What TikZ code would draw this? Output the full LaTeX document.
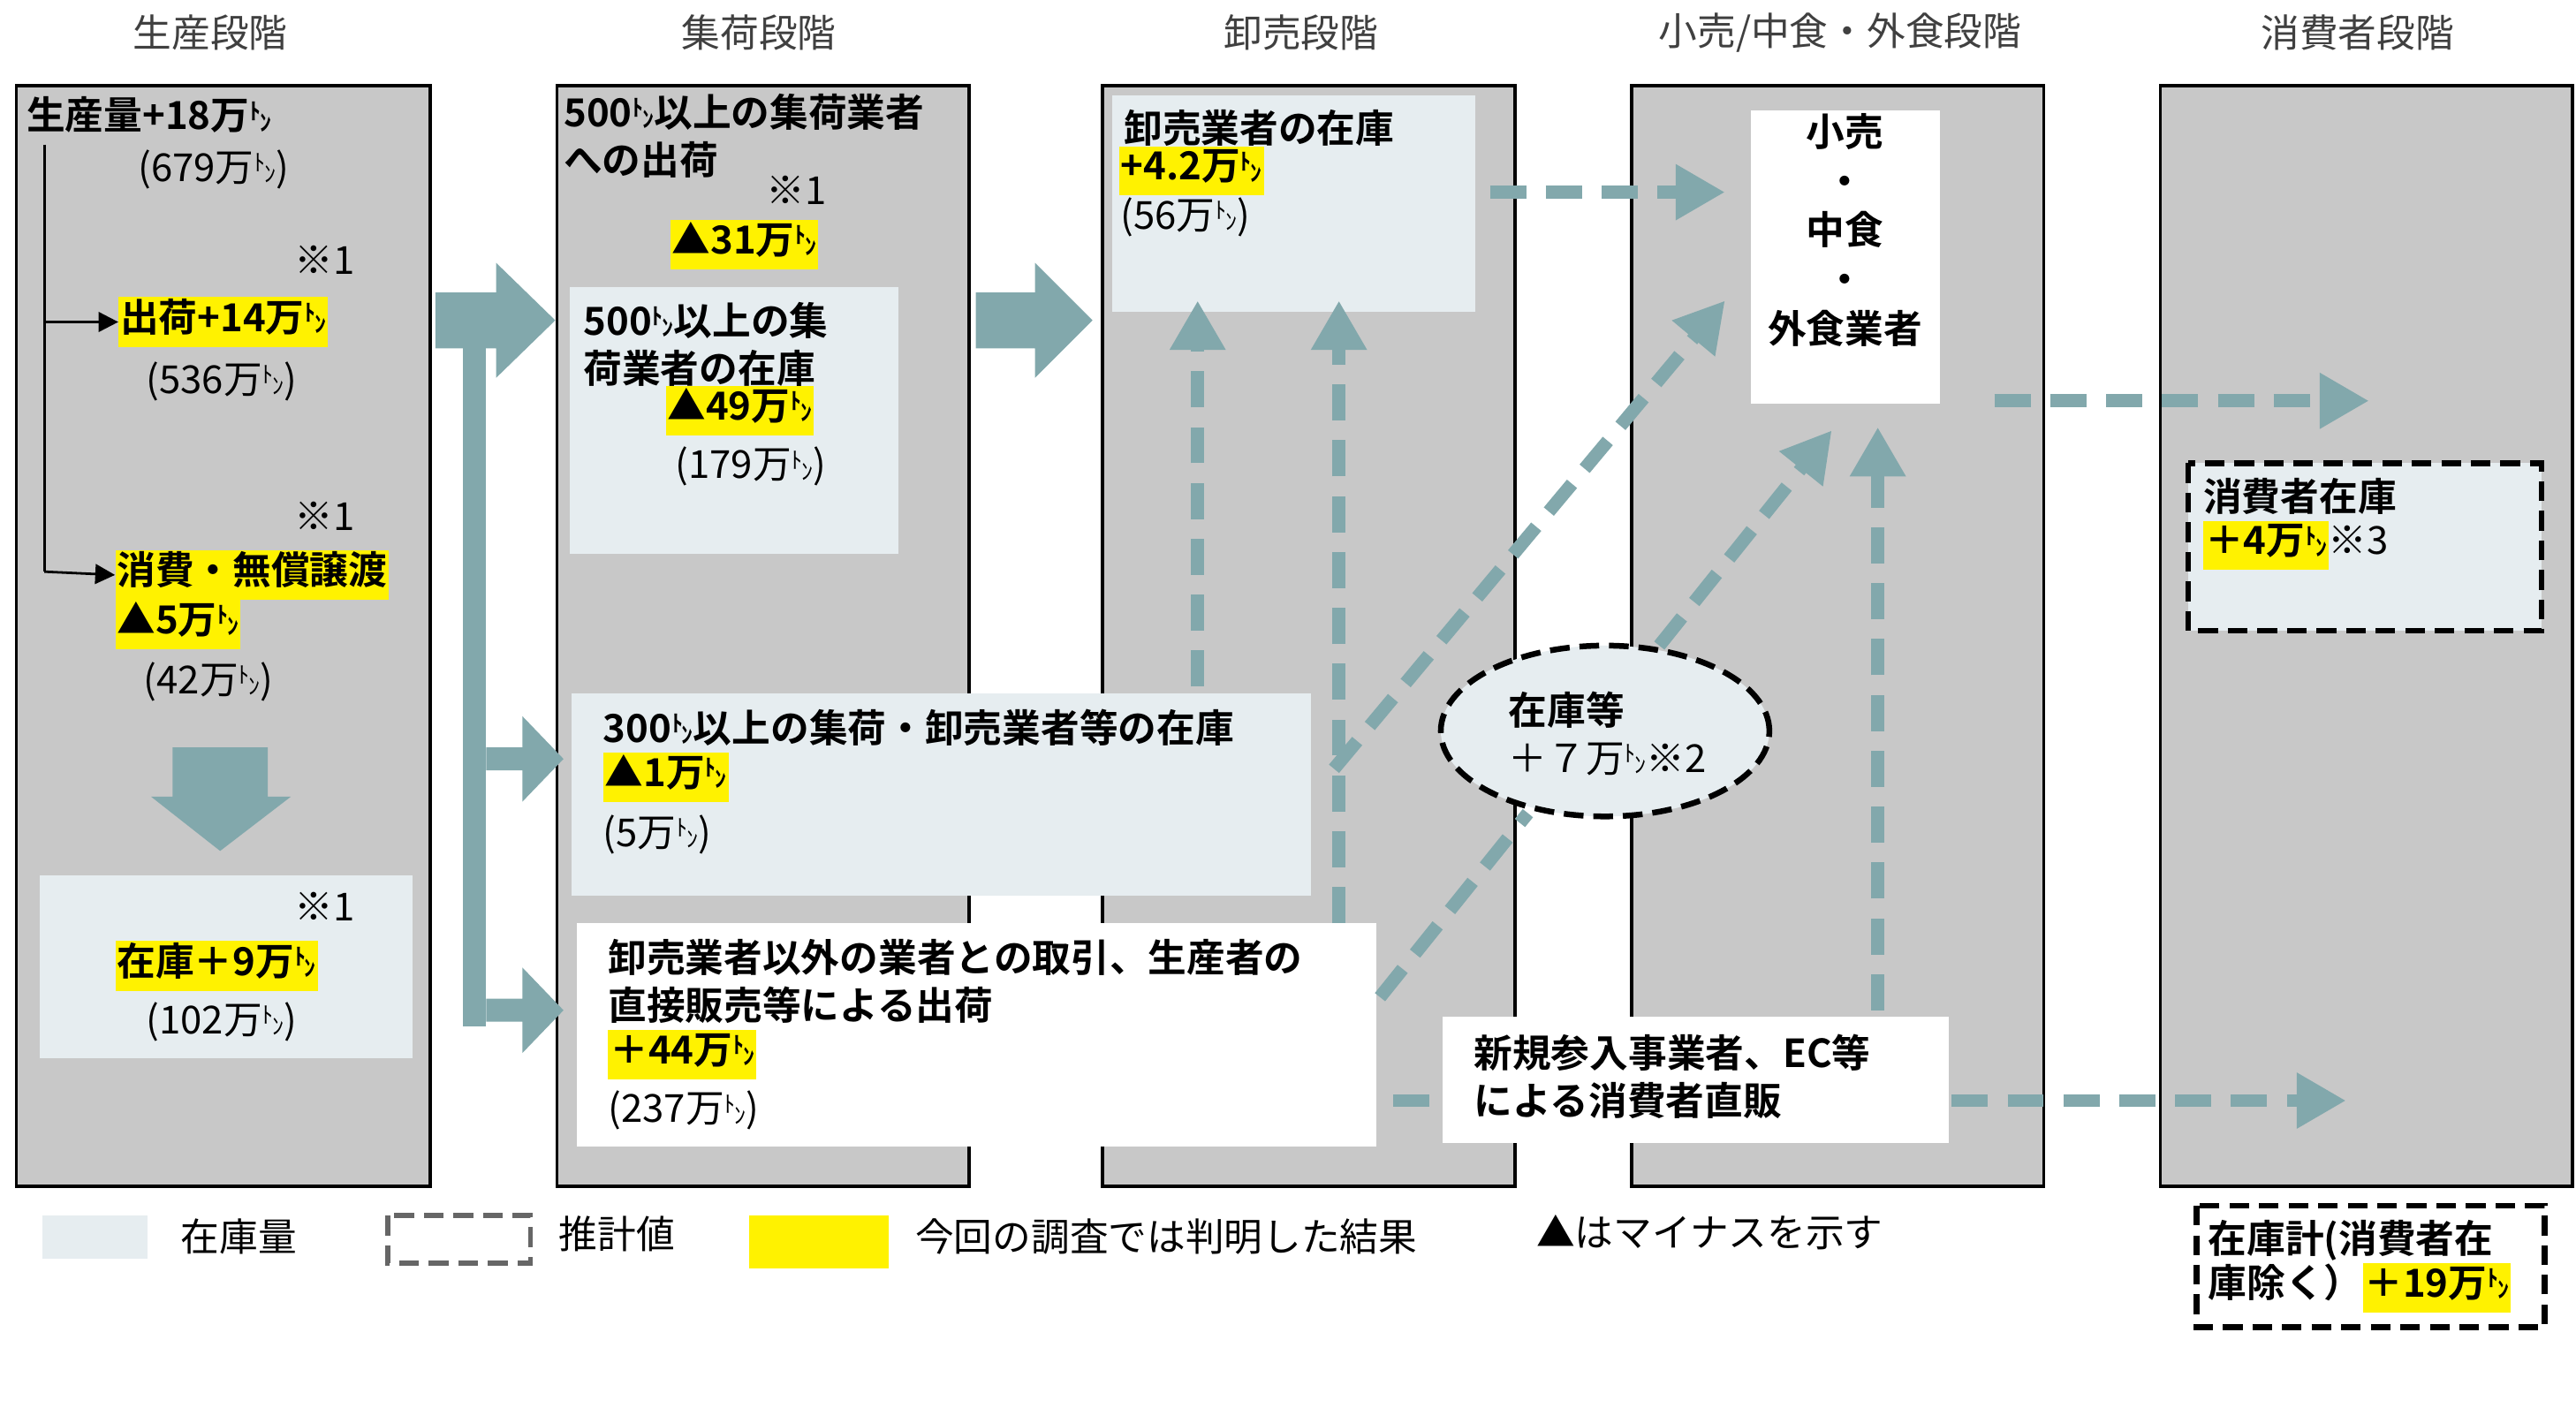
\documentclass[tikz,border=0pt]{standalone}
\usepackage{fontspec}
\setmainfont{Noto Sans CJK JP}
\newfontfamily\bfj{Noto Sans CJK JP Bold}
\usetikzlibrary{arrows.meta,shapes.geometric}
\definecolor{colgray}{HTML}{C8C8C8}
\definecolor{lite}{HTML}{E6EDF0}
\definecolor{teal}{HTML}{82A8AC}
\newcommand\tn{{\fontsize{14}{14}\selectfont\raisebox{0.45em}{ﾄ}\kern-0.05em\raisebox{-0.05em}{ﾝ}}}
\newcommand\hly[1]{{\setlength\fboxsep{1pt}\colorbox{yellow}{\strut #1}}}
\begin{document}
\begin{tikzpicture}[x=1pt,y=-1pt,
  every node/.style={inner sep=0pt,font=\fontsize{23.5}{28}\selectfont},
  tx/.style={anchor=west},
  bt/.style={anchor=west,font=\bfj\fontsize{23.5}{28}\selectfont},
  hd/.style={font=\fontsize{23.5}{28}\selectfont\color{black!75}},
  colbox/.style={draw=black,line width=2pt,fill=colgray},
  litebox/.style={fill=lite},
  whitebox/.style={fill=white},
  fat/.style={fill=teal},
  dsh/.style={draw=teal,line width=8pt,dash pattern=on 22pt off 12pt,-{Triangle[width=32pt,length=30pt]}},
  estbox/.style={draw=black,line width=3.5pt,dash pattern=on 12pt off 6pt},
  blk/.style={draw=black,line width=1.5pt}]
\useasboundingbox (0,0) rectangle (1568,857);
\fill[white] (0,0) rectangle (1568,857);
% headers
\node[hd] (h1) at (128,20) {生産段階};
\node[hd] (h2) at (462,20) {集荷段階};
\node[hd] (h3) at (792,20) {卸売段階};
\node[hd] (h4) at (1120,20) {小売/中食・外食段階};
\node[hd] (h5) at (1435,20) {消費者段階};
% columns
\draw[colbox] (10,52) rectangle (262,722);
\draw[colbox] (339,52) rectangle (590,722);
\draw[colbox] (671,52) rectangle (922,722);
\draw[colbox] (993,52) rectangle (1244,722);
\draw[colbox] (1315,52) rectangle (1566,722);
% column 1
\node[bt] (p1) at (16,70) {生産量+18万\tn};
\node (p1b) at (130,103) {(679万\tn)};
\coordinate (vt) at (27,88);
\coordinate (vb) at (27,348);
\node[anchor=east] (n1a) at (216,158) {※1};
\node[bt] (p2) at (72,196) {\hly{出荷+14万\tn}};
\node (p2b) at (135,232) {(536万\tn)};
\node[anchor=east] (n1b) at (216,314) {※1};
\node[bt] (p3) at (70,350) {\hly{消費・無償譲渡}};
\node[bt] (p3b) at (70,380) {\hly{▲5万\tn}};
\node (p3c) at (127,415) {(42万\tn)};
\draw[blk] (vt) -- (vb);
\draw[blk,-{Triangle[width=12pt,length=12pt]}] (27,196) -- (p2.west);
\draw[blk,-{Triangle[width=12pt,length=12pt]}] (vb) -- (p3.west);
\fill[fat] (105,455) -- (163,455) -- (163,485) -- (177,485) -- (134,518) -- (92,485) -- (105,485) -- cycle;
\fill[litebox] (24,533) rectangle (251,644);
\node[anchor=east] (n1c) at (216,552) {※1};
\node[bt] (p4) at (70,588) {\hly{在庫＋9万\tn}};
\node (p4b) at (135,622) {(102万\tn)};
% fat arrows
\fill[fat] (265,178) -- (302,178) -- (302,160) -- (338,195) -- (302,230) -- (302,212) -- (265,212) -- cycle;
\fill[fat] (282,212) rectangle (296,625);
\fill[fat] (296,455) -- (318,455) -- (318,436) -- (343,462) -- (318,488) -- (318,469) -- (296,469) -- cycle;
\fill[fat] (296,608) -- (318,608) -- (318,589) -- (343,615) -- (318,641) -- (318,622) -- (296,622) -- cycle;
\fill[fat] (594,178) -- (630,178) -- (630,160) -- (665,195) -- (630,230) -- (630,212) -- (594,212) -- cycle;
% column 2
\node[bt] (c1) at (343,68) {500\tn 以上の集荷業者};
\node[bt] (c1b) at (343,97) {への出荷};
\node (n1d) at (485,116) {※1};
\node[font=\bfj\fontsize{23.5}{28}\selectfont] (c1c) at (453,149) {\hly{▲31万\tn}};
\fill[litebox] (347,175) rectangle (547,337);
\node[bt] (c2) at (355,195) {500\tn 以上の集};
\node[bt] (c2b) at (355,224) {荷業者の在庫};
\node[bt] (c2c) at (405,250) {\hly{▲49万\tn}};
\node (c2d) at (457,284) {(179万\tn)};
\fill[litebox] (348,422) rectangle (798,545);
\node[bt] (c3) at (367,443) {300\tn 以上の集荷・卸売業者等の在庫};
\node[bt] (c3b) at (367,473) {\hly{▲1万\tn}};
\node[tx] (c3c) at (367,508) {(5万\tn)};
\fill[whitebox] (351,562) rectangle (838,698);
\node[bt] (c4) at (370,583) {卸売業者以外の業者との取引、生産者の};
\node[bt] (c4b) at (370,612) {直接販売等による出荷};
\node[bt] (c4c) at (370,642) {\hly{＋44万\tn}};
\node[tx] (c4d) at (370,676) {(237万\tn)};
% column 3
\fill[litebox] (677,58) rectangle (898,190);
\node[bt] (w1) at (684,78) {卸売業者の在庫};
\node[bt] (w1b) at (681,104) {\hly{+4.2万\tn}};
\node[tx] (w1c) at (682,132) {(56万\tn)};
% column 4
\fill[whitebox] (1066,67) rectangle (1181,246);
\node[font=\bfj\fontsize{23.5}{28}\selectfont,align=center] (r1) at (1123,140) {小売\\[2pt]・\\[2pt]中食\\[2pt]・\\[2pt]外食業者};
% dashed connectors
\coordinate (d1s) at (907,117); \coordinate (d1e) at (1050,117);
\coordinate (d2s) at (729,418); \coordinate (d2e) at (729,183);
\coordinate (d3s) at (815,562); \coordinate (d3e) at (815,183);
\coordinate (d4s) at (812,468); \coordinate (d4e) at (1050,183);
\coordinate (d5s) at (840,607); \coordinate (d5m) at (930,495);
\coordinate (d6s) at (1010,393); \coordinate (d6e) at (1115,262);
\coordinate (d7s) at (1143,615); \coordinate (d7e) at (1143,260);
\coordinate (d8s) at (1214,244); \coordinate (d8e) at (1442,244);
\coordinate (d9s) at (848,670); \coordinate (d9e) at (1428,670);
\draw[dsh] (d1s) -- (d1e);
\draw[dsh] (d2s) -- (d2e);
\draw[dsh] (d3s) -- (d3e);
\draw[dsh] (d4s) -- (d4e);
\draw[dsh,-] (d5s) -- (d5m);
\draw[dsh] (d6s) -- (d6e);
\draw[dsh] (d7s) -- (d7e);
\draw[dsh] (d8s) -- (d8e);
\draw[dsh] (d9s) -- (d9e);
\node[ellipse,estbox,fill=lite,minimum width=200pt,minimum height=104pt] (el) at (977,445) {};
\node[bt] (e1) at (918,432) {在庫等};
\node[tx] (e1b) at (918,462) {＋７万\tn ※2};
\fill[whitebox] (878,619) rectangle (1186,696);
\node[bt] (s1) at (897,641) {新規参入事業者、EC等};
\node[bt] (s1b) at (897,670) {による消費者直販};
% column 5
\draw[estbox,fill=lite] (1332,282) rectangle (1547,384);
\node[bt] (k1) at (1341,302) {消費者在庫};
\node[tx] (k1b) at (1341,332) {{\bfj\hly{＋4万\tn}}※3};
% legend
\fill[litebox] (26,740) rectangle (90,766);
\node[tx] (l1) at (110,753) {在庫量};
\draw[draw=black!60,line width=3pt,dash pattern=on 12pt off 6pt] (236,740) rectangle (323,769);
\node[tx] (l2) at (340,751) {推計値};
\fill[yellow] (456,740) rectangle (541,772);
\node[tx] (l3) at (557,753) {今回の調査では判明した結果};
\node[tx] (l4) at (935,750) {▲はマイナスを示す};
\draw[estbox,fill=white] (1337,734) rectangle (1549,808);
\node[bt] (t1) at (1344,755) {在庫計(消費者在};
\node[bt] (t1b) at (1344,784) {庫除く）\hly{＋19万\tn}};
\end{tikzpicture}
\end{document}
